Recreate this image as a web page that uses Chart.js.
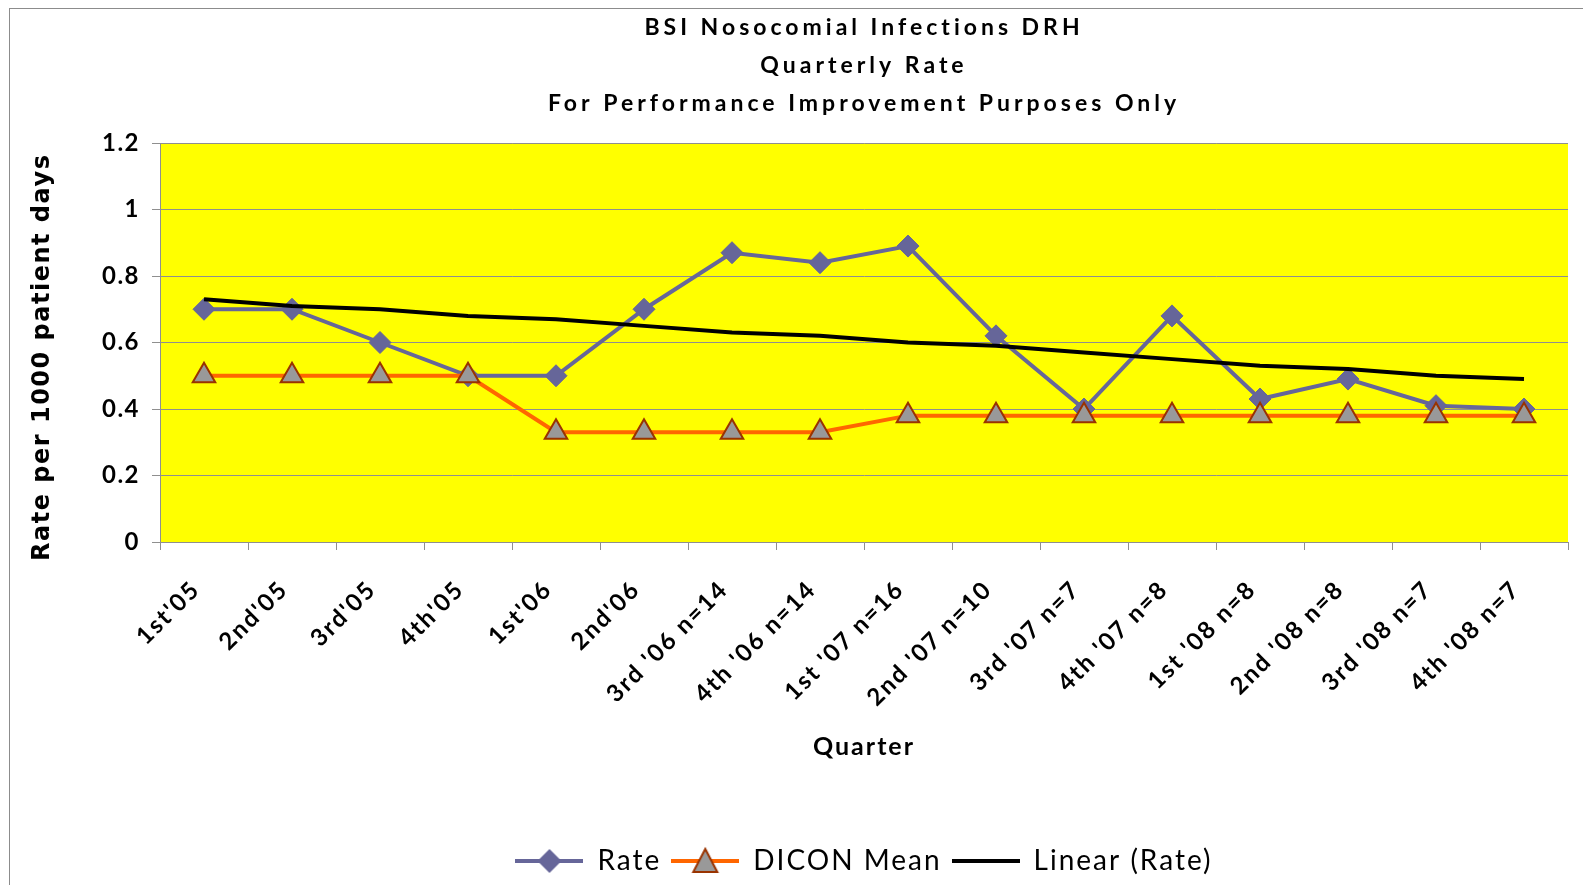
<!DOCTYPE html>
<html>
<head>
<meta charset="utf-8">
<title>BSI Nosocomial Infections DRH</title>
<script src="https://cdn.jsdelivr.net/npm/chart.js@4.4.0/dist/chart.umd.min.js"></script>
<style>
  html, body { margin: 0; padding: 0; background: #fff; }
  canvas { display: block; }
</style>
</head>
<body>
<canvas id="myChart" width="1583" height="885"></canvas>
<script>
const quarters = [
    "1st'05", "2nd'05", "3rd'05", "4th'05", "1st'06", "2nd'06",
    "3rd '06 n=14", "4th '06 n=14", "1st '07 n=16", "2nd '07 n=10",
    "3rd '07 n=7", "4th '07 n=8", "1st '08 n=8", "2nd '08 n=8",
    "3rd '08 n=7", "4th '08 n=7"
];
const rate = [0.70, 0.70, 0.60, 0.50, 0.50, 0.70, 0.87, 0.84, 0.89, 0.62, 0.40, 0.68, 0.43, 0.49, 0.41, 0.40];
const diconMean = [0.50, 0.50, 0.50, 0.50, 0.33, 0.33, 0.33, 0.33, 0.38, 0.38, 0.38, 0.38, 0.38, 0.38, 0.38, 0.38];
const linearRate = [0.73, 0.71, 0.70, 0.68, 0.67, 0.65, 0.63, 0.62, 0.60, 0.59, 0.57, 0.55, 0.53, 0.52, 0.50, 0.49];
const yTickLabels = ['0', '0.2', '0.4', '0.6', '0.8', '1', '1.2'];

const rateColor = '#666699';
const meanColor = '#ff6600';
const axisGray = '#8f8f8f';

Chart.defaults.font.family = 'Lato';
Chart.defaults.color = '#000';

// little line+marker pictures for the legend, like the excel legend keys
function legendIcon(kind) {
    const c = document.createElement('canvas');
    c.width = 68;
    c.height = 30;
    const g = c.getContext('2d');
    g.lineWidth = 4;
    g.strokeStyle = kind === 'rate' ? rateColor : (kind === 'mean' ? meanColor : '#000');
    g.beginPath();
    g.moveTo(0, 15);
    g.lineTo(68, 15);
    g.stroke();
    if (kind === 'rate') {
        g.fillStyle = rateColor;
        g.beginPath();
        g.moveTo(34, 3); g.lineTo(46, 15); g.lineTo(34, 27); g.lineTo(22, 15);
        g.closePath();
        g.fill();
    } else if (kind === 'mean') {
        g.fillStyle = '#999999';
        g.strokeStyle = '#993300';
        g.lineWidth = 2;
        g.beginPath();
        g.moveTo(34, 3); g.lineTo(46, 26); g.lineTo(22, 26);
        g.closePath();
        g.fill();
        g.stroke();
    }
    return c;
}
const legendIcons = [legendIcon('rate'), legendIcon('mean'), legendIcon('linear')];

// wrap a box's method so its text gets letter spacing (measure + draw)
function spaceOut(box, px, method) {
    method = method || 'draw';
    const flag = '__spaced_' + method;
    if (!box || box[flag]) return;
    const orig = box[method];
    box[method] = function () {
        this.ctx.save();
        this.ctx.letterSpacing = px;
        const r = orig.apply(this, arguments);
        this.ctx.restore();
        return r;
    };
    box[flag] = true;
}

const letterSpacing = {
    id: 'letterSpacing',
    beforeLayout(chart) {
        spaceOut(chart.titleBlock, '4px');
        spaceOut(chart.scales.x, '2px');
        spaceOut(chart.scales.y, '1.5px');
        spaceOut(chart.legend, '2px', 'fit');
        spaceOut(chart.legend, '2px', 'draw');
    }
};

const chartBackground = {
    id: 'chartBackground',
    beforeDraw(chart) {
        const ctx = chart.ctx;
        const a = chart.chartArea;
        ctx.save();
        ctx.fillStyle = '#fff';
        ctx.fillRect(0, 0, chart.width, chart.height);
        ctx.fillStyle = '#ffff00';
        ctx.fillRect(a.left, a.top, a.right - a.left, a.bottom - a.top);
        ctx.strokeStyle = '#8c8c8c';
        ctx.lineWidth = 1;
        ctx.strokeRect(9.5, 8.5, chart.width + 20, chart.height + 20);
        ctx.restore();
    }
};

const ctx = document.getElementById('myChart').getContext('2d');
const myChart = new Chart(ctx, {
    type: 'line',
    data: {
        labels: quarters,
        datasets: [{
            label: 'Rate',
            data: rate,
            borderColor: rateColor,
            backgroundColor: rateColor,
            borderWidth: 4,
            pointStyle: 'rectRot',
            pointRadius: 11,
            pointBackgroundColor: rateColor,
            pointBorderColor: rateColor,
            pointBorderWidth: 1,
            tension: 0,
            order: 3
        }, {
            label: 'DICON Mean',
            data: diconMean,
            borderColor: meanColor,
            backgroundColor: meanColor,
            borderWidth: 4,
            pointStyle: 'triangle',
            pointRadius: 13,
            pointBackgroundColor: '#999999',
            pointBorderColor: '#993300',
            pointBorderWidth: 2,
            tension: 0,
            order: 2
        }, {
            label: 'Linear (Rate)',
            data: linearRate,
            borderColor: '#000',
            backgroundColor: '#000',
            borderWidth: 4,
            pointRadius: 0,
            tension: 0,
            order: 1
        }]
    },
    options: {
        responsive: false,
        animation: false,
        devicePixelRatio: 1,
        layout: {
            padding: {left: 0, right: 9, top: 0, bottom: 0}
        },
        plugins: {
            tooltip: {enabled: false},
            title: {
                display: true,
                fullSize: false,
                text: ['BSI Nosocomial Infections DRH', 'Quarterly Rate', 'For Performance Improvement Purposes Only'],
                color: '#000',
                font: {family: 'Lato', size: 23, weight: 'bold', lineHeight: '38px'},
                padding: {top: 9, bottom: 20}
            },
            legend: {
                position: 'bottom',
                fullSize: false,
                labels: {
                    usePointStyle: true,
                    pointStyleWidth: 68,
                    padding: 10,
                    color: '#000',
                    font: {family: 'Lato', size: 28},
                    generateLabels: function (chart) {
                        const items = Chart.defaults.plugins.legend.labels.generateLabels(chart);
                        items.forEach((it) => { it.pointStyle = legendIcons[it.datasetIndex]; });
                        return items;
                    },
                    sort: function (a, b) { return a.datasetIndex - b.datasetIndex; }
                }
            }
        },
        scales: {
            x: {
                offset: true,
                grid: {
                    offset: true,
                    drawOnChartArea: false,
                    drawTicks: true,
                    tickLength: 8,
                    color: axisGray
                },
                border: {color: axisGray},
                ticks: {
                    autoSkip: false,
                    minRotation: 45,
                    maxRotation: 45,
                    padding: 25,
                    labelOffset: -8,
                    color: '#000',
                    font: {family: 'Lato', size: 24, weight: 'bold'}
                },
                title: {
                    display: true,
                    text: 'Quarter',
                    color: '#000',
                    font: {family: 'Lato', size: 25, weight: 'bold'},
                    padding: {top: 0, bottom: 75}
                },
                afterFit: function (s) { s.height = 295; }
            },
            y: {
                min: 0,
                max: 1.2,
                grid: {
                    color: axisGray,
                    tickLength: 8
                },
                border: {color: axisGray},
                ticks: {
                    stepSize: 0.2,
                    padding: 12,
                    color: '#000',
                    font: {family: 'Lato', size: 24, weight: 'bold'},
                    callback: function (v, i) { return yTickLabels[i]; }
                },
                title: {
                    display: true,
                    text: 'Rate per 1000 patient days   ',
                    color: '#000',
                    font: {family: 'DejaVu Sans', size: 24, weight: 'bold'},
                    padding: {top: 28, bottom: 0}
                },
                afterFit: function (s) { s.width = 160; }
            }
        }
    },
    plugins: [chartBackground, letterSpacing]
});
</script>
</body>
</html>
